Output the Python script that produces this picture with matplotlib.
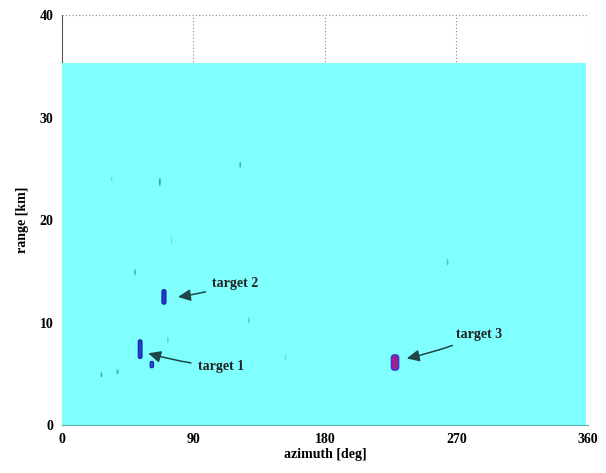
import matplotlib.pyplot as plt
from matplotlib.patches import Ellipse, FancyBboxPatch

plt.rcParams['font.family'] = ['Liberation Serif', 'DejaVu Serif']
plt.rcParams['font.weight'] = 'bold'

# --- Data ---
# covered region of the scan
scan_az = [0.0, 359.0]          # deg
scan_range_max = 35.3            # km

# strong returns (targets)
target_az = [53.5, 61.5, 69.8, 228.0]
target_rng = [7.4, 5.9, 12.5, 6.1]
target_w = [2.4, 2.2, 2.6, 5.0]      # deg
target_h = [1.8, 0.6, 1.4, 1.5]      # km
target_face = ['#1f3fe0', '#2a50e8', '#2438d8', '#a0208c']
target_edge = ['#1a2aa0', '#1a2aa0', '#1a2aa0', '#3838d8']

# weak clutter returns
clutter_az = [67.0, 122.0, 50.0, 27.0, 38.0, 72.5, 264.0, 34.0, 75.0, 153.0, 128.0]
clutter_rng = [23.7, 25.4, 14.9, 4.9, 5.2, 8.3, 15.9, 24.0, 18.0, 6.6, 10.2]
clutter_w = [1.3, 1.2, 1.2, 1.1, 1.6, 1.0, 1.2, 1.0, 0.8, 1.0, 1.4]
clutter_h = [0.8, 0.6, 0.6, 0.5, 0.5, 0.7, 0.6, 0.4, 0.8, 0.6, 0.6]
clutter_col = ['#38a8b8', '#40b0c0', '#40b0c0', '#3aa0b0', '#4ab8c8', '#5ccad8',
               '#50c0d0', '#68d8e4', '#68d8e4', '#68d8e4', '#60d0e0']

# annotations: label, arrow tip (az, range), text position (az, range)
labels = ['target 1', 'target 2', 'target 3']
tip_az = [59.0, 79.4, 236.0]
tip_rng = [7.0, 12.5, 6.5]
text_az = [93.0, 103.0, 270.0]
text_rng = [5.7, 13.85, 8.8]

x_ticks = [0, 90, 180, 270, 360]
y_ticks = [0, 10, 20, 30, 40]

# --- Plot ---
fig = plt.figure(figsize=(6.06, 4.73), dpi=100)
ax = fig.add_axes([0.1023, 0.1015, 0.8677, 0.8665])

ax.set_xlim(0, 360)
ax.set_ylim(0, 40)

# dotted grid, drawn under the scan area
for x in x_ticks[1:]:
    ax.axvline(x, color='#888888', ls=(0, (1, 2)), lw=0.8, zorder=0)
ax.axhline(40, color='#888888', ls=(0, (1, 2)), lw=0.8, zorder=0)

ax.fill_between(scan_az, 0, scan_range_max, color='#80ffff', lw=0, zorder=1)

for a, r, w, h, c in zip(clutter_az, clutter_rng, clutter_w, clutter_h, clutter_col):
    ax.add_patch(Ellipse((a, r), w, h, facecolor=c, edgecolor='none', zorder=2))

# km per deg on screen, so the corner rounding looks round
km_per_deg = (40 / 410) / (360 / 526)
for a, r, w, h, fc, ec in zip(target_az, target_rng, target_w, target_h,
                              target_face, target_edge):
    ax.add_patch(FancyBboxPatch((a - w / 2, r - h / 2), w, h,
                                boxstyle='round,pad=0,rounding_size=%.2f' % (w / 2.2),
                                mutation_aspect=km_per_deg,
                                facecolor=fc, edgecolor=ec, lw=1.0, zorder=3))

for lab, ta, tr, xa, xr in zip(labels, tip_az, tip_rng, text_az, text_rng):
    ax.annotate(lab, xy=(ta, tr), xytext=(xa, xr), ha='left', va='center',
                fontsize=10, fontweight='bold', color='#222222',
                arrowprops=dict(arrowstyle='-|>,head_length=0.75,head_width=0.35',
                                color='#1e4646', lw=1.1, shrinkA=3, shrinkB=0,
                                connectionstyle='arc3,rad=-0.05'),
                zorder=5)

for s in ['top', 'right']:
    ax.spines[s].set_visible(False)
ax.spines['left'].set_color('#555555')
ax.spines['bottom'].set_color('#60b0b0')
ax.spines['left'].set_zorder(0)

ax.set_xticks(x_ticks)
ax.set_yticks(y_ticks)
ax.tick_params(length=0, labelsize=10, pad=6)
for t in ax.get_xticklabels() + ax.get_yticklabels():
    t.set_fontweight('bold')

ax.set_xlabel('azimuth [deg]', fontsize=10, fontweight='bold', labelpad=1)
ax.set_ylabel('range [km]', fontsize=10, fontweight='bold', labelpad=8)

fig.savefig('out.png', dpi=100)
